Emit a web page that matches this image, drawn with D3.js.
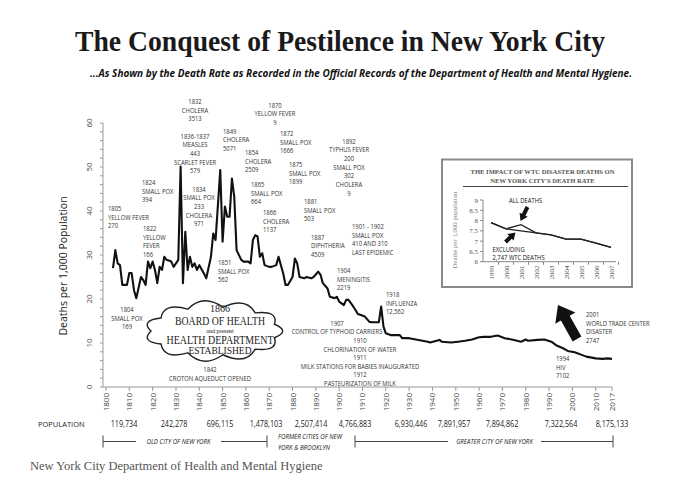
<!DOCTYPE html>
<html><head><meta charset="utf-8">
<script src="https://cdn.jsdelivr.net/npm/d3@7"></script>
<style>
body{margin:0;background:#fff;}
svg{display:block;}
</style></head><body>
<svg id="c" width="680" height="487"></svg>
<script>
// ---------------- DATA ----------------
const years = [1803,1804,1805,1806,1807,1809,1810,1811,1812,1813,1815,1816,1817,1818,1819,1820,1821,1822,1823,1824,1825,1826,1828,1829,1831,1832,1833,1834,1835,1836,1837,1838,1839,1840,1842,1843,1845,1846,1847,1849,1850,1851,1852,1853,1854,1855,1856,1858,1859,1861,1862,1863,1864,1865,1866,1867,1868,1870,1871,1873,1874,1876,1877,1878,1880,1881,1882,1883,1885,1886,1888,1889,1891,1892,1893,1895,1896,1898,1899,1900,1902,1903,1904,1906,1907,1908,1909,1911,1913,1914,1916,1917,1918,1919,1920,1922,1924,1926,1927,1930,1934,1938,1939,1943,1944,1948,1951,1954,1957,1960,1962,1965,1968,1971,1975,1978,1980,1981,1985,1988,1991,1993,1996,1998,2001,2004,2006,2010,2013,2015,2017];
const deathRate = [27.0,31.1,28.1,27.7,23.2,23.2,25.9,25.9,22.0,20.2,25.0,24.3,23.2,28.5,27.0,28.5,26.6,23.6,27.3,26.6,29.6,28.9,28.5,27.3,28.9,50.1,23.6,35.3,26.6,29.6,27.3,28.1,26.6,27.7,25.8,24.7,29.6,34.9,33.4,49.3,33.0,41.0,38.7,38.7,47.4,43.2,31.1,28.9,28.5,28.5,28.1,33.4,34.5,34.2,29.6,30.4,27.7,27.3,27.3,27.7,29.6,25.8,23.2,23.2,25.0,29.2,28.1,25.0,24.7,25.0,24.7,25.0,26.2,25.5,23.6,22.4,20.5,20.2,20.5,19.4,18.6,19.8,19.8,18.3,17.5,16.6,16.4,16.0,14.8,14.7,14.7,14.7,18.3,13.7,12.2,11.8,11.8,11.8,11.1,11.1,10.7,10.3,10.1,10.7,10.3,10.1,10.3,10.5,10.8,11.3,11.4,11.4,11.7,11.1,10.7,10.3,10.8,10.5,10.7,10.8,10.3,9.5,8.8,8.2,7.9,7.3,6.9,6.5,6.4,6.5,6.4];
const xTicks = [1800,1810,1820,1830,1840,1850,1860,1870,1880,1890,1900,1910,1920,1930,1940,1950,1960,1970,1980,1990,2000,2010,2017];
const yTicks = [0,10,20,30,40,50,60];
const popLabels = ["119,734","242,278","696,115","1,478,103","2,507,414","4,766,883","6,930,446","7,891,957","7,894,862","7,322,564","8,175,133"];
const eraLabels = ["OLD CITY OF NEW YORK","FORMER CITIES OF NEW|YORK & BROOKLYN","GREATER  CITY OF NEW YORK"];
const insetYears = [1999,2000,2001,2002,2003,2004,2005,2006,2007];
const insetAllDeaths = [7.9,7.6,7.8,7.4,7.3,7.1,7.1,6.9,6.7];
const insetExcluding = [7.9,7.6,7.5,7.4,7.3,7.1,7.1,6.9,6.7];
const insetYTicks = [6,6.5,7,7.5,8,8.5,9];
const noteTexts = [
 ["1832","CHOLERA","3513"],
 ["1836-1837","MEASLES","443","SCARLET FEVER","579"],
 ["1834","SMALL POX","233","CHOLERA","971"],
 ["1849","CHOLERA","5071"],
 ["1854","CHOLERA","2509"],
 ["1865","SMALL POX","664"],
 ["1866","CHOLERA","1137"],
 ["1851","SMALL POX","562"],
 ["1824","SMALL POX","394"],
 ["1805","YELLOW FEVER","270"],
 ["1822","YELLOW","FEVER","166"],
 ["1870","YELLOW FEVER","9"],
 ["1872","SMALL POX","1666"],
 ["1875","SMALL POX","1899"],
 ["1892","TYPHUS FEVER","200","SMALL POX","302","CHOLERA","9"],
 ["1881","SMALL POX","503"],
 ["1887","DIPHTHERIA","4509"],
 ["1901 - 1902","SMALL POX","410 AND 310","LAST EPIDEMIC"],
 ["1904","MENINGITIS","2219"],
 ["1804","SMALL POX","169"],
 ["1842","CROTON AQUEDUCT OPENED"],
 ["1907","CONTROL OF TYPHOID CARRIERS"],
 ["1910","CHLORINATION OF WATER"],
 ["1911","MILK STATIONS FOR BABIES INAUGURATED"],
 ["1912","PASTEURIZATION OF MILK"],
 ["1918","INFLUENZA","12,562"],
 ["2001","WORLD TRADE CENTER","DISASTER","2747"],
 ["1994","HIV","7102"]
];

// ---------------- DRAWING ----------------
const svg = d3.select("#c");
const NOTE_FONT = "'Open Sans','Liberation Sans',sans-serif";
const SANS = "'Open Sans','Liberation Sans',sans-serif";
const SERIF = "'Liberation Serif','DejaVu Serif',serif";

svg.append("rect").attr("width",680).attr("height",487).attr("fill","#fff");

// condense helper: squeeze a text element horizontally
function condense(sel, k){
  sel.each(function(){
    const len = this.getComputedTextLength();
    if(len>0) d3.select(this).attr("textLength",len*k).attr("lengthAdjust","spacingAndGlyphs");
  });
  return sel;
}

// title
svg.append("text").attr("x",340).attr("y",51).attr("text-anchor","middle")
  .attr("font-family",SERIF).attr("font-weight","bold")
  .attr("font-size",30).attr("fill","#1a1a1a")
  .attr("textLength",530).attr("lengthAdjust","spacingAndGlyphs")
  .text("The Conquest of Pestilence in New York City");
svg.append("text").attr("x",361).attr("y",77).attr("text-anchor","middle")
  .attr("font-family",SANS).attr("font-weight","bold").attr("font-style","italic")
  .attr("font-size",9.8).attr("fill","#111")
  .attr("textLength",542).attr("lengthAdjust","spacingAndGlyphs")
  .text("...As Shown by the Death Rate as Recorded in the Official Records of the Department of Health and Mental Hygiene.");

const x = d3.scaleLinear().domain([1800,2017]).range([106,612]);
const y = d3.scaleLinear().domain([0,60]).range([387,123]);

// y axis
const gy = svg.append("g").attr("transform","translate(103,0)");
gy.append("line").attr("y1",y(0)).attr("y2",y(60)).attr("stroke","#999");
gy.selectAll("line.minor").data(d3.range(0,61,2)).enter().append("line")
  .attr("x1",-3).attr("x2",0).attr("y1",d=>y(d)).attr("y2",d=>y(d)).attr("stroke","#999");
gy.selectAll("text").data(yTicks).enter().append("text")
  .attr("transform",d=>`translate(-11,${y(d)}) rotate(-90)`)
  .attr("text-anchor","middle").attr("font-family",SANS).attr("font-size",8).attr("fill","#444")
  .text(d=>d);
svg.append("text").attr("transform","translate(67,266) rotate(-90)").attr("text-anchor","middle")
  .attr("font-family",SANS).attr("font-size",10.5).attr("fill","#222")
  .text("Deaths per 1,000 Population");

// x axis
const gx = svg.append("g").attr("transform",`translate(0,${y(0)})`);
gx.append("line").attr("x1",103).attr("x2",x(2017)).attr("stroke","#999");
gx.selectAll("line.t").data(xTicks).enter().append("line")
  .attr("x1",d=>x(d)).attr("x2",d=>x(d)).attr("y1",0).attr("y2",4).attr("stroke","#999");
gx.selectAll("text").data(xTicks).enter().append("text")
  .attr("transform",d=>`translate(${x(d)+3},6) rotate(-90)`)
  .attr("text-anchor","end").attr("font-family",SANS).attr("font-size",8).attr("fill","#444")
  .text(d=>d);

// main line
svg.append("path").datum(years.map((yr,i)=>[yr,deathRate[i]]))
  .attr("fill","none").attr("stroke","#111").attr("stroke-width",2.1).attr("stroke-linejoin","round")
  .attr("d",d3.line().x(d=>x(d[0])).y(d=>y(d[1])));

// annotations
const noteLayout = [
 [195,104,"middle"],[195,138.5,"middle"],[199,191.5,"middle"],[223,133.5,"start"],[245,155,"start"],
 [251,187,"start"],[263,215,"start"],[218,265,"start"],[142,185,"start"],[108,211,"start"],
 [143,231,"start"],[275,107.5,"middle"],[280,136,"start"],[289,167,"start"],[349,143.5,"middle"],
 [304,204,"start"],[311,239.5,"start"],[352,229,"start"],[337,273,"start"],[127,312,"middle"],
 [210,372,"middle"],[337,325.5,"middle"],[360,343,"middle"],[360,360,"middle"],[360,377.3,"middle"],
 [386,297,"start"],[586,317,"start"],[556,361,"start"]
];
const LH = 8.7;
noteTexts.forEach((lines,i)=>{
  const [nx,ny,anchor] = noteLayout[i];
  lines.forEach((ln,j)=>{
    const t = svg.append("text").attr("x",nx).attr("y",ny+j*LH).attr("font-family",NOTE_FONT).attr("font-size",7)
      .attr("fill","#333").attr("text-anchor",anchor).text(ln);
    condense(t,0.84);
  });
});

// cloud
function cloudPath(cx,cy,rx,ry,n,b){
  const p = d3.path();
  for(let i=0;i<=n;i++){
    const a = Math.PI + i/n*2*Math.PI;
    const px = cx+rx*Math.cos(a), py = cy+ry*Math.sin(a);
    if(i===0){p.moveTo(px,py);continue;}
    const am = Math.PI + (i-0.5)/n*2*Math.PI;
    const qx = cx+(rx+b)*Math.cos(am), qy = cy+(ry+b)*Math.sin(am);
    p.quadraticCurveTo(qx,qy,px,py);
  }
  p.closePath();
  return p.toString();
}
svg.append("path").attr("d",cloudPath(214,331,63,24,11,14))
  .attr("fill","#fff").attr("stroke","#222").attr("stroke-width",1.4);
[["1866",10,312,0],["BOARD OF HEALTH",11.5,324.5,90],["and present",6,332.5,0],["HEALTH DEPARTMENT",11.5,344,107],["ESTABLISHED",9.5,354,0]]
.forEach(([s,fs,yy,w])=>{
  const t = svg.append("text").attr("x",220).attr("y",yy).attr("text-anchor","middle")
    .attr("font-family",SERIF).attr("font-size",fs).attr("fill","#222").text(s);
  if(w) t.attr("textLength",w).attr("lengthAdjust","spacingAndGlyphs");
});

// thick arrow helper
function arrowPoly(x1,y1,x2,y2,w,hw,hl){
  const dx=x2-x1, dy=y2-y1, L=Math.hypot(dx,dy), ux=dx/L, uy=dy/L, nx=-uy, ny=ux;
  const bx=x2-ux*hl, by=y2-uy*hl;
  return [[x1+nx*w/2,y1+ny*w/2],[bx+nx*w/2,by+ny*w/2],[bx+nx*hw/2,by+ny*hw/2],[x2,y2],
          [bx-nx*hw/2,by-ny*hw/2],[bx-nx*w/2,by-ny*w/2],[x1-nx*w/2,y1-ny*w/2]].map(p=>p.join(",")).join(" ");
}
svg.append("polygon").attr("points",arrowPoly(577,339,558,305,10,23,15)).attr("fill","#111");

// population row
svg.append("text").attr("x",38).attr("y",427).attr("font-family",SANS).attr("font-size",7.5).attr("fill","#222").text("POPULATION");
const popX = [124,174,220,266,311,355,411,454,502,561,612];
popLabels.forEach((s,i)=>{
  const t = svg.append("text").attr("x",popX[i]).attr("y",427).attr("text-anchor","middle")
  .attr("font-family",NOTE_FONT).attr("font-size",8.2).attr("fill","#222").text(s);
  condense(t,0.88);
});

// era brackets
const by = 441.5;
function bracket(x1,x2,gap1,gap2){
  const g = svg.append("g").attr("stroke","#333").attr("stroke-width",0.9);
  g.append("line").attr("x1",x1).attr("x2",x1).attr("y1",by-6).attr("y2",by+6);
  g.append("line").attr("x1",x2).attr("x2",x2).attr("y1",by-6).attr("y2",by+6);
  g.append("line").attr("x1",x1).attr("x2",gap1).attr("y1",by).attr("y2",by);
  g.append("line").attr("x1",gap2).attr("x2",x2).attr("y1",by).attr("y2",by);
}
bracket(103,267,136,221);
bracket(355,613,448,541);
condense(svg.append("text").attr("x",178.5).attr("y",by+2.5).attr("text-anchor","middle")
  .attr("font-family",NOTE_FONT).attr("font-style","italic").attr("font-size",7).attr("fill","#222").text(eraLabels[0]),0.88);
eraLabels[1].split("|").forEach((s,j)=>condense(svg.append("text").attr("x",278).attr("y",439+j*11).attr("font-family",NOTE_FONT)
  .attr("font-style","italic").attr("font-size",7).attr("fill","#222").text(s),0.88));
condense(svg.append("text").attr("x",494.5).attr("y",by+2.5).attr("text-anchor","middle")
  .attr("font-family",NOTE_FONT).attr("font-style","italic").attr("font-size",7).attr("fill","#222").text(eraLabels[2]),0.88);

// footer
svg.append("text").attr("x",30).attr("y",470).attr("font-family",SERIF).attr("font-size",12.5).attr("fill","#555")
  .text("New York City Department of Health and Mental Hygiene");

// ---------------- INSET ----------------
const ins = svg.append("g");
ins.append("rect").attr("x",442).attr("y",159.5).attr("width",190).attr("height",127.5)
  .attr("fill","#fff").attr("stroke","#8a8a8a").attr("stroke-width",2);
["THE IMPACT OF WTC DISASTER DEATHS ON","NEW YORK CITY'S DEATH RATE"].forEach((s,j)=>
  ins.append("text").attr("x",542.5).attr("y",174+j*8.5).attr("text-anchor","middle").attr("font-family",SERIF)
   .attr("font-weight","bold").attr("font-size",6.6).attr("fill","#555").text(s));
ins.append("line").attr("x1",463).attr("x2",628).attr("y1",186.5).attr("y2",186.5).attr("stroke","#444").attr("stroke-width",1);
const ix = d3.scaleLinear().domain([1999,2007]).range([491,611]);
const iy = d3.scaleLinear().domain([6,9]).range([261.7,200]);
ins.append("line").attr("x1",483).attr("x2",483).attr("y1",iy(9)).attr("y2",iy(6)).attr("stroke","#888");
ins.append("line").attr("x1",483).attr("x2",616).attr("y1",iy(6)).attr("y2",iy(6)).attr("stroke","#888");
ins.selectAll("line.yt").data(insetYTicks).enter().append("line").attr("x1",480).attr("x2",483)
  .attr("y1",d=>iy(d)).attr("y2",d=>iy(d)).attr("stroke","#888");
ins.selectAll("text.yt").data(insetYTicks).enter().append("text").attr("x",478).attr("y",d=>iy(d)+2.5)
  .attr("text-anchor","end").attr("font-family",SERIF).attr("font-size",7).attr("fill","#555").text(d=>d);
ins.selectAll("line.xt").data(insetYears).enter().append("line").attr("x1",d=>ix(d)+7.5).attr("x2",d=>ix(d)+7.5)
  .attr("y1",iy(6)).attr("y2",iy(6)+3).attr("stroke","#888");
ins.selectAll("text.xt").data(insetYears).enter().append("text")
  .attr("transform",d=>`translate(${ix(d)+2.5},${iy(6)+4}) rotate(-90)`)
  .attr("text-anchor","end").attr("font-family",SERIF).attr("font-size",6.8).attr("fill","#555").text(d=>d);
ins.append("text").attr("transform","translate(457,230) rotate(-90)").attr("text-anchor","middle")
  .attr("font-family",SERIF).attr("font-size",6.8).attr("fill","#888").text("Deaths per 1,000 population");
const il = d3.line().x(d=>ix(d[0])).y(d=>iy(d[1]));
ins.append("path").attr("d",il(insetYears.map((yr,i)=>[yr,insetAllDeaths[i]]))).attr("fill","none").attr("stroke","#222").attr("stroke-width",1.3);
ins.append("path").attr("d",il(insetYears.map((yr,i)=>[yr,insetExcluding[i]]))).attr("fill","none").attr("stroke","#222").attr("stroke-width",1.3);
condense(ins.append("text").attr("x",509).attr("y",202.5).attr("font-family",NOTE_FONT).attr("font-size",6.8).attr("fill","#111").text("ALL DEATHS"),0.86);
["EXCLUDING","2,747 WTC DEATHS"].forEach((s,j)=>condense(ins.append("text").attr("x",492.5).attr("y",251.5+j*8.5)
  .attr("font-family",NOTE_FONT).attr("font-size",6.8).attr("fill","#111").text(s),0.86));
ins.append("polygon").attr("points",arrowPoly(527.5,207,520.5,221,4,9,7)).attr("fill","#111");
ins.append("polygon").attr("points",arrowPoly(505.5,242,515.5,232.5,4,9,7)).attr("fill","#111");
</script>
</body></html>
